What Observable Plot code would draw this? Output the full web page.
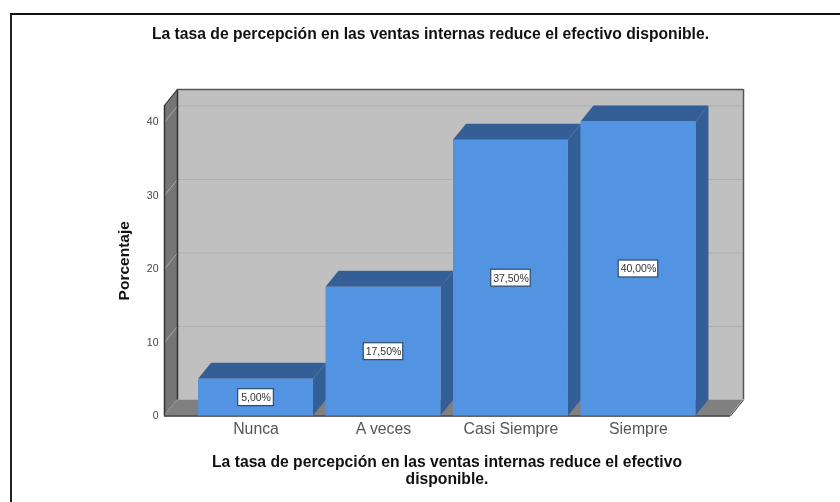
<!DOCTYPE html>
<html lang="es">
<head>
<meta charset="utf-8">
<script src="https://cdn.jsdelivr.net/npm/d3@7"></script>
<script src="https://cdn.jsdelivr.net/npm/@observablehq/plot@0.6"></script>
<style>
  html, body { margin: 0; padding: 0; background: #fff; width: 840px; height: 502px; overflow: hidden; font-family: "Liberation Sans", Arial, sans-serif; }
  #page { position: absolute; left: 0; top: 0; width: 840px; height: 502px; filter: blur(0.4px); }
  #frame { position: absolute; left: 10px; top: 13px; width: 830px; height: 489px; box-sizing: border-box; border-top: 2px solid #111; border-left: 2px solid #222; }
  #title { position: absolute; left: 0; top: 26px; width: 861px; text-align: center; font-weight: bold; font-size: 15.7px; line-height: 16px; color: #111; }
  #chart { position: absolute; left: 0; top: 50px; }
  #caption { position: absolute; left: 0; top: 454px; width: 894px; text-align: center; font-weight: bold; font-size: 15.7px; line-height: 16.5px; color: #111; }
  #chart svg { display: block; }
</style>
</head>
<body>
<div id="page">
<div id="frame"></div>
<div id="title">La tasa de percepción en las ventas internas reduce el efectivo disponible.</div>
<div id="chart"></div>
<div id="caption">La tasa de percepción en las ventas internas reduce el efectivo<br>disponible.</div>
</div>
<script>
const categories = ["Nunca", "A veces", "Casi Siempre", "Siempre"];
const percentages = [5, 17.5, 37.5, 40];
const labels = ["5,00%", "17,50%", "37,50%", "40,00%"];
const yTicks = [0, 10, 20, 30, 40];

// Extents of the 3D box, in scale units
const xLeft = -0.718, xRight = 3.824, yTop = 44.42;
const depthX = 0.102, depthY = 2.18;
const halfBar = 0.451;
const labelHalfW = [0.14, 0.155, 0.155, 0.155], labelHalfH = 1.15;

const wallFill = "#c0c0c0", sideFill = "#757575", floorFill = "#808080";
const barFill = "#5294e2", barDark = "#345f96";

// each quad is two rows of an area: edge (x1,y1)-(x2,y2) at each end
let id = 0;
const faces = [];
function quad(color, a1, a2, b1, b2) {
  const face = id++;
  faces.push({face, color, x1: a1[0], y1: a1[1], x2: a2[0], y2: a2[1]});
  faces.push({face, color, x1: b1[0], y1: b1[1], x2: b2[0], y2: b2[1]});
}
const frontRight = xRight - depthX, wallTop = yTop - depthY;
// left wall
quad(sideFill, [xLeft, 0], [xLeft, wallTop], [xLeft + depthX, depthY], [xLeft + depthX, yTop]);
// floor
quad(floorFill, [xLeft, 0], [xLeft + depthX, depthY], [frontRight, 0], [xRight, depthY]);

percentages.forEach((v, i) => {
  const l = i - halfBar, r = i + halfBar;
  quad(barDark, [l, v], [r, v], [l + depthX, v + depthY], [r + depthX, v + depthY]);
  quad(barDark, [r, 0], [r, v], [r + depthX, depthY], [r + depthX, v + depthY]);
});

const leftWall = faces.slice(0, 4);
const barSides = faces.slice(4);

const gridBack = yTicks.slice(1);
const data = percentages.map((v, i) => ({i, v, label: labels[i]}));

const quadOpts = {x1: "x1", y1: "y1", x2: "x2", y2: "y2", z: "face", fill: "color", curve: "linear"};

const plot = Plot.plot({
  width: 840,
  height: 402,
  marginLeft: 164,
  marginRight: 97,
  marginTop: 39,
  marginBottom: 36.5,
  style: {fontFamily: "'Liberation Sans', Arial, sans-serif", background: "transparent"},
  x: {type: "linear", domain: [xLeft, xRight], axis: null},
  y: {type: "linear", domain: [0, yTop], axis: null},
  color: {type: "identity"},
  marks: [
    // back wall
    Plot.rect([0], {x1: xLeft + depthX, x2: xRight, y1: depthY, y2: yTop, fill: wallFill}),
    Plot.area(leftWall, quadOpts),
    // gridlines on the back wall and across the side wall
    Plot.ruleY(gridBack, {y: d => d + depthY, x1: xLeft + depthX, x2: xRight, stroke: "#aeaeae", strokeWidth: 1}),
    Plot.link(gridBack, {x1: xLeft, y1: d => d, x2: xLeft + depthX, y2: d => d + depthY, stroke: "#a8a8a8", strokeWidth: 1}),
    // box edges
    Plot.ruleX([xLeft], {y1: 0, y2: wallTop, stroke: "#333", strokeWidth: 1.5}),
    Plot.ruleX([xLeft + depthX], {y1: depthY, y2: yTop, stroke: "#333", strokeWidth: 1.5}),
    Plot.ruleX([xRight], {y1: depthY, y2: yTop, stroke: "#555", strokeWidth: 1.5}),
    Plot.ruleY([yTop], {x1: xLeft + depthX, x2: xRight, stroke: "#555", strokeWidth: 1.5}),
    Plot.link([0], {x1: xLeft, y1: wallTop, x2: xLeft + depthX, y2: yTop, stroke: "#333", strokeWidth: 1}),
    Plot.link([0], {x1: frontRight, y1: 0, x2: xRight, y2: depthY, stroke: "#333", strokeWidth: 1}),
    Plot.ruleY([0], {x1: xLeft, x2: frontRight, stroke: "#333", strokeWidth: 1.5}),
    // bars: dark top and side, then the front
    Plot.area(barSides, quadOpts),
    Plot.rectY(data, {x1: d => d.i - halfBar, x2: d => d.i + halfBar, y1: 0, y2: "v", fill: barFill}),
    // value labels
    Plot.rect(data, {
      x1: d => d.i - labelHalfW[d.i], x2: d => d.i + labelHalfW[d.i],
      y1: d => d.v / 2 - labelHalfH, y2: d => d.v / 2 + labelHalfH,
      fill: "#fff", stroke: "#2f4a6b", strokeWidth: 1.2
    }),
    Plot.text(data, {x: "i", y: d => d.v / 2, text: "label", fontSize: 10.5, fill: "#333"}),
    // axes
    Plot.axisY({ticks: yTicks, tickSize: 0, tickPadding: 6, label: null, fontSize: 10.5, color: "#444", anchor: "left"}),
    Plot.axisX({ticks: categories.map((c, i) => i), tickFormat: i => categories[i], tickSize: 0, tickPadding: 7, label: null, fontSize: 15.8, color: "#555", anchor: "bottom"}),
    Plot.text(["Porcentaje"], {frameAnchor: "left", textAnchor: "middle", rotate: -90, dx: -40, dy: 8, fontSize: 15.5, fontWeight: "bold", fill: "#111"})
  ]
});
document.getElementById("chart").appendChild(plot);
</script>
</body>
</html>
